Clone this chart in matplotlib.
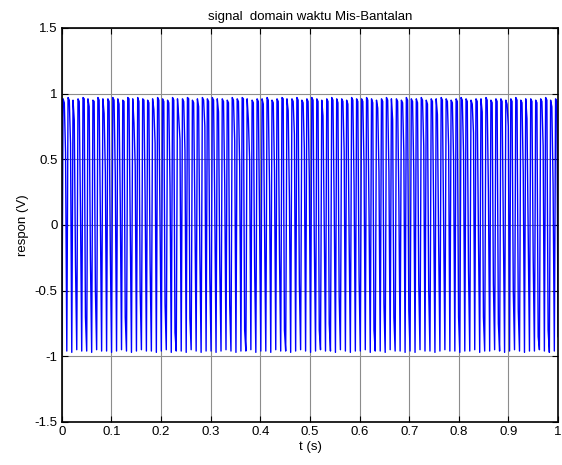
import numpy as np
import matplotlib
matplotlib.use("Agg")
from matplotlib import pyplot as plt

# tiap siklus: lembah -> puncak -> puncak (bahu) -> titik tengah sisi turun
lembah = [-0.95, -0.96, -0.97, -0.95, -0.96, -0.96, -0.97, -0.95, -0.96, -0.96,
          -0.97, -0.96, -0.95, -0.96, -0.97, -0.96, -0.95, -0.96, -0.96, -0.97,
          -0.96, -0.95, -0.97, -0.96, -0.96, -0.97, -0.95, -0.96, -0.97, -0.96,
          -0.96, -0.97, -0.96, -0.95, -0.96, -0.97, -0.96, -0.96, -0.95, -0.97,
          -0.96, -0.96, -0.97, -0.95, -0.96, -0.96, -0.97, -0.96, -0.95, -0.96,
          -0.97, -0.96, -0.95, -0.96, -0.96, -0.97, -0.95, -0.96, -0.97, -0.96,
          -0.96, -0.95, -0.97, -0.96, -0.96, -0.97, -0.95, -0.96, -0.96, -0.97,
          -0.96, -0.97, -0.95, -0.96, -0.96, -0.97, -0.96, -0.95, -0.96, -0.96,
          -0.97, -0.96, -0.96, -0.95, -0.97, -0.96, -0.96, -0.95, -0.96, -0.97,
          -0.96, -0.95, -0.96, -0.97, -0.96, -0.96, -0.95, -0.96, -0.97, -0.96]
puncak = [0.96, 0.97, 0.95, 0.96, 0.97, 0.96, 0.95, 0.97, 0.96, 0.96,
          0.97, 0.96, 0.95, 0.97, 0.96, 0.97, 0.96, 0.95, 0.96, 0.97,
          0.96, 0.95, 0.97, 0.96, 0.96, 0.97, 0.95, 0.96, 0.97, 0.96,
          0.97, 0.96, 0.96, 0.95, 0.97, 0.96, 0.97, 0.96, 0.95, 0.96,
          0.96, 0.97, 0.95, 0.96, 0.97, 0.96, 0.96, 0.97, 0.95, 0.96,
          0.97, 0.96, 0.95, 0.96, 0.97, 0.96, 0.96, 0.95, 0.97, 0.96,
          0.96, 0.97, 0.96, 0.95, 0.96, 0.97, 0.96, 0.96, 0.95, 0.97,
          0.96, 0.96, 0.97, 0.95, 0.96, 0.96, 0.97, 0.96, 0.95, 0.96,
          0.97, 0.96, 0.95, 0.96, 0.96, 0.97, 0.95, 0.96, 0.96, 0.95,
          0.96, 0.97, 0.95, 0.96, 0.96, 0.95, 0.96, 0.97, 0.95, 0.96]
bahu = [0.93, 0.95, 0.80, 0.94, 0.96, 0.90, 0.94, 0.95, 0.85, 0.94,
        0.95, 0.92, 0.94, 0.96, 0.78, 0.94, 0.95, 0.93, 0.88, 0.95,
        0.94, 0.93, 0.95, 0.82, 0.94, 0.96, 0.93, 0.90, 0.95, 0.94,
        0.95, 0.86, 0.94, 0.93, 0.95, 0.94, 0.96, 0.80, 0.93, 0.94,
        0.92, 0.95, 0.93, 0.94, 0.96, 0.87, 0.94, 0.95, 0.93, 0.94,
        0.95, 0.94, 0.83, 0.94, 0.95, 0.93, 0.94, 0.92, 0.95, 0.94,
        0.94, 0.95, 0.93, 0.89, 0.94, 0.95, 0.80, 0.94, 0.93, 0.95,
        0.94, 0.93, 0.95, 0.92, 0.94, 0.84, 0.95, 0.94, 0.93, 0.94,
        0.95, 0.94, 0.92, 0.94, 0.86, 0.95, 0.93, 0.94, 0.94, 0.92,
        0.94, 0.95, 0.93, 0.81, 0.94, 0.93, 0.94, 0.95, 0.90, 0.94]
tengah = [0.55, 0.62, -0.30, 0.10, -0.70, -0.25, -0.50, 0.05, 0.40, -0.20,
          0.37, 0.15, -0.70, 0.00, 0.45, -0.50, 0.20, -0.30, 0.62, 0.00,
          -0.60, 0.30, -0.82, 0.65, 0.57, -0.71, 0.10, -0.23, 0.75, -0.40,
          0.13, -0.31, 0.30, -0.61, 0.64, 0.45, -0.80, 0.50, -0.30, 0.05,
          0.00, 0.30, 0.41, -0.22, -0.80, 0.20, 0.69, -0.45, 0.58, 0.35,
          -0.10, -0.80, 0.00, -0.75, 0.16, -0.55, 0.56, -0.10, 0.30, -0.40,
          0.45, 0.10, -0.80, 0.40, -0.60, 0.40, -0.70, 0.20, 0.55, -0.65,
          0.41, -0.45, 0.60, -0.50, 0.10, -0.16, 0.00, 0.60, 0.50, -0.70,
          0.55, -0.35, 0.70, -0.10, -0.70, 0.25, -0.45, -0.75, 0.00, 0.75,
          -0.50, -0.65, 0.40, -0.10, -0.25, -0.85, 0.60, -0.80, 0.30, -0.85]

respon = np.column_stack([lembah, puncak, bahu, tengah]).ravel()
t = np.linspace(0, 1, len(respon))          # sampel waktu, 0 - 1 s

xticks = [0, 0.1, 0.2, 0.3, 0.4, 0.5, 0.6, 0.7, 0.8, 0.9, 1]
xtick_labels = ["0", "0.1", "0.2", "0.3", "0.4", "0.5", "0.6", "0.7", "0.8", "0.9", "1"]
yticks = [-1.5, -1, -0.5, 0, 0.5, 1, 1.5]
ytick_labels = ["-1.5", "-1", "-0.5", "0", "0.5", "1", "1.5"]

plt.rcParams['font.family'] = ['Liberation Sans', 'DejaVu Sans']
plt.rcParams['font.size'] = 9.5

fig = plt.figure(figsize=(5.62, 4.65), dpi=100)
ax = fig.add_axes([0.110, 0.0925, 0.883, 0.8475])
ax.plot(t, respon, color='#0000ff', linewidth=1.0)

ax.set_xlim(0, 1)
ax.set_ylim(-1.5, 1.5)
ax.set_xticks(xticks)
ax.set_xticklabels(xtick_labels)
ax.set_yticks(yticks)
ax.set_yticklabels(ytick_labels)
ax.grid(True, color='#8c8c8c', linewidth=0.8)
ax.set_axisbelow(True)
ax.tick_params(direction='in', length=4, width=0.8, top=True, right=True, pad=3)
for s in ax.spines.values():
    s.set_linewidth(1.2)

ax.set_title("signal  domain waktu Mis-Bantalan", fontsize=9.5, pad=6)
ax.set_xlabel("t (s)", labelpad=2)
ax.set_ylabel("respon (V)", labelpad=4)

fig.savefig("out.png", dpi=100, facecolor='white')
